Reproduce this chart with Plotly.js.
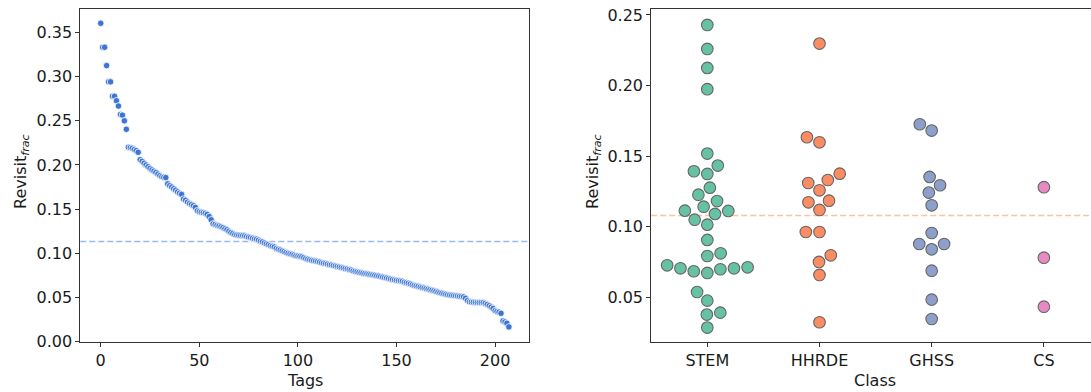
<!DOCTYPE html>
<html>
<head>
<meta charset="utf-8">
<script src="https://cdn.plot.ly/plotly-3.0.1.min.js"></script>
<style>html,body{margin:0;padding:0;background:#fff;overflow:hidden}#chart{width:1091px;height:392px}</style>
</head>
<body>
<div id="chart"></div>
<script>
// ---------- data ----------
const tagRevisit = [
  0.3605, 0.3333, 0.3333, 0.3125, 0.2941, 0.2941, 0.2778, 0.2778, 0.2727, 0.2667,
  0.2571, 0.2564, 0.2500, 0.2404, 0.2200, 0.2195, 0.2188, 0.2174, 0.2162, 0.2143,
  0.2059, 0.2041, 0.2020, 0.2000, 0.1980, 0.1961, 0.1944, 0.1930, 0.1915, 0.1897,
  0.1880, 0.1867, 0.1860, 0.1857, 0.1786, 0.1765, 0.1750, 0.1731, 0.1714, 0.1695,
  0.1680, 0.1667, 0.1613, 0.1600, 0.1579, 0.1563, 0.1552, 0.1538, 0.1519, 0.1481,
  0.1471, 0.1463, 0.1458, 0.1452, 0.1440, 0.1415, 0.1379, 0.1333, 0.1327, 0.1316,
  0.1309, 0.1300, 0.1290, 0.1277, 0.1266, 0.1250, 0.1235, 0.1224, 0.1212, 0.1207,
  0.1204, 0.1200, 0.1200, 0.1197, 0.1190, 0.1183, 0.1178, 0.1170, 0.1163, 0.1159,
  0.1148, 0.1136, 0.1128, 0.1117, 0.1106, 0.1098, 0.1087, 0.1078, 0.1071, 0.1055,
  0.1045, 0.1036, 0.1026, 0.1017, 0.1008, 0.1000, 0.0993, 0.0989, 0.0980, 0.0972,
  0.0969, 0.0965, 0.0960, 0.0950, 0.0940, 0.0933, 0.0927, 0.0920, 0.0915, 0.0911,
  0.0906, 0.0900, 0.0893, 0.0887, 0.0883, 0.0877, 0.0870, 0.0866, 0.0860, 0.0856,
  0.0851, 0.0845, 0.0839, 0.0833, 0.0827, 0.0822, 0.0816, 0.0809, 0.0800, 0.0795,
  0.0789, 0.0784, 0.0779, 0.0774, 0.0770, 0.0767, 0.0763, 0.0759, 0.0755, 0.0751,
  0.0746, 0.0741, 0.0736, 0.0730, 0.0725, 0.0720, 0.0714, 0.0709, 0.0704, 0.0698,
  0.0694, 0.0690, 0.0686, 0.0682, 0.0672, 0.0667, 0.0660, 0.0652, 0.0643, 0.0635,
  0.0630, 0.0625, 0.0617, 0.0612, 0.0606, 0.0600, 0.0594, 0.0588, 0.0581, 0.0575,
  0.0568, 0.0560, 0.0553, 0.0547, 0.0541, 0.0536, 0.0531, 0.0527, 0.0524, 0.0521,
  0.0519, 0.0516, 0.0513, 0.0510, 0.0505, 0.0490, 0.0465, 0.0450, 0.0448, 0.0446,
  0.0444, 0.0443, 0.0442, 0.0441, 0.0440, 0.0432, 0.0420, 0.0405, 0.0390, 0.0375,
  0.0350, 0.0340, 0.0333, 0.0320, 0.0233, 0.0222, 0.0207, 0.0166
];
const tagMeanLine = 0.1133;

const classNames = ["STEM", "HHRDE", "GHSS", "CS"];
const stemValues = [0.2429, 0.2259, 0.2125, 0.1974, 0.1518, 0.1433, 0.1393, 0.1374, 0.1277, 0.1227,
  0.1182, 0.1142, 0.1114, 0.1112, 0.1091, 0.1050, 0.1015, 0.0907, 0.0812, 0.0793,
  0.0727, 0.0713, 0.0706, 0.0706, 0.0699, 0.0685, 0.0673, 0.0538, 0.0477, 0.0392,
  0.0378, 0.0286];
const hhrdeValues = [0.2297, 0.1634, 0.1598, 0.1376, 0.1331, 0.1310, 0.1258, 0.1185, 0.1173, 0.1119,
  0.0963, 0.0963, 0.0798, 0.0751, 0.0659, 0.0324];
const ghssValues = [0.1726, 0.1681, 0.1353, 0.1294, 0.1242, 0.1152, 0.0956, 0.0878, 0.0878, 0.0840,
  0.0689, 0.0484, 0.0347];
const csValues = [0.1280, 0.0781, 0.0434];
const classMeanLine = 0.1079;
const classColors = ["#66c2a5", "#fc8d62", "#8da0cb", "#e78ac3"];

// ---------- geometry ----------
const W = 1091, H = 392;
const M = {l: 0, r: 0, t: 9, b: 50};
const plotH = H - M.t - M.b;
const x1Dom = [80.3 / W, 529.3 / W];
const x2Dom = [651.2 / W, 1];
const y1Range = [-0.0005, 0.3766];
const y2Range = [0.0184, 0.2542];
const x2Range = [-0.5, 3.42];
const x1Range = [-10.35, 217.35];

// beeswarm (seaborn-like) in pixel space
const pxPerY2 = plotH / (y2Range[1] - y2Range[0]);
const pxPerX2 = (x2Dom[1] - x2Dom[0]) * W / (x2Range[1] - x2Range[0]);
const R = 6.5;
function swarm(values) {
  const idx = values.map((v, i) => i).sort((a, b) => values[a] - values[b]);
  const placed = [];
  for (const i of idx) {
    const y = values[i] * pxPerY2;
    const nb = [];
    for (let k = placed.length - 1; k >= 0; k--) {
      if (y - placed[k].y < 2 * R) nb.unshift(placed[k]); else break;
    }
    const cands = [0];
    let leftFirst = true;
    for (const n of nb) {
      const dy = y - n.y;
      const dx = Math.sqrt(Math.max(4 * R * R - dy * dy, 0)) * 1.05;
      if (leftFirst) cands.push(n.x - dx, n.x + dx); else cands.push(n.x + dx, n.x - dx);
      leftFirst = !leftFirst;
    }
    const order = cands.map((c, j) => j).sort((a, b) => (Math.abs(cands[a]) - Math.abs(cands[b])) || (a - b));
    let chosen = 0;
    for (const j of order) {
      const cx = cands[j];
      if (nb.every(n => (n.x - cx) ** 2 + (n.y - y) ** 2 >= 4 * R * R - 1e-9)) { chosen = cx; break; }
    }
    placed.push({x: chosen, y: y, i: i});
  }
  const off = new Array(values.length);
  placed.forEach(p => { off[p.i] = p.x / pxPerX2; });
  return off;
}

const axisFont = {family: "DejaVu Sans, sans-serif", size: 16, color: "#1a1a1a"};
const lineCol = "#333";

const traces = [];
traces.push({
  type: "scatter", mode: "markers", xaxis: "x", yaxis: "y",
  x: tagRevisit.map((v, i) => i), y: tagRevisit,
  marker: {size: 6.5, color: "#3c75d4", line: {color: "#ffffff", width: 0.8}},
  hoverinfo: "skip", showlegend: false
});
[stemValues, hhrdeValues, ghssValues, csValues].forEach((vals, c) => {
  const off = swarm(vals);
  traces.push({
    type: "scatter", mode: "markers", xaxis: "x2", yaxis: "y2",
    x: vals.map((v, i) => c + off[i]), y: vals,
    marker: {size: 11.6, color: classColors[c], line: {color: "#666666", width: 1.1}},
    hoverinfo: "skip", showlegend: false
  });
});

const layout = {
  width: W, height: H, margin: M,
  paper_bgcolor: "#fff", plot_bgcolor: "#fff",
  font: axisFont,
  showlegend: false,
  xaxis: {
    domain: x1Dom, range: x1Range, anchor: "y",
    tickvals: [0, 50, 100, 150, 200], ticks: "outside", ticklen: 4, tickwidth: 1, tickcolor: lineCol,
    showline: true, linecolor: lineCol, linewidth: 1, mirror: true,
    showgrid: false, zeroline: false, tickfont: axisFont
  },
  yaxis: {
    domain: [0, 1], range: y1Range, anchor: "x",
    tickvals: [0, 0.05, 0.10, 0.15, 0.20, 0.25, 0.30, 0.35], tickformat: ".2f",
    ticks: "outside", ticklen: 4, tickwidth: 1, tickcolor: lineCol,
    showline: true, linecolor: lineCol, linewidth: 1, mirror: true,
    showgrid: false, zeroline: false, tickfont: axisFont
  },
  xaxis2: {
    domain: x2Dom, range: x2Range, anchor: "y2",
    tickvals: [0, 1, 2, 3], ticktext: classNames,
    ticks: "outside", ticklen: 4, tickwidth: 1, tickcolor: lineCol,
    showline: true, linecolor: lineCol, linewidth: 1, mirror: true,
    showgrid: false, zeroline: false, tickfont: axisFont
  },
  yaxis2: {
    domain: [0, 1], range: y2Range, anchor: "x2",
    tickvals: [0.05, 0.10, 0.15, 0.20, 0.25], tickformat: ".2f",
    ticks: "outside", ticklen: 4, tickwidth: 1, tickcolor: lineCol,
    showline: true, linecolor: lineCol, linewidth: 1, mirror: false,
    showgrid: false, zeroline: false, tickfont: axisFont
  },
  shapes: [
    {type: "line", xref: "x domain", yref: "y", x0: 0, x1: 1, y0: tagMeanLine, y1: tagMeanLine,
     line: {color: "#9ab7ee", width: 1.5, dash: "6px,3px"}, layer: "below"},
    {type: "line", xref: "x2 domain", yref: "y2", x0: 0, x1: 1, y0: classMeanLine, y1: classMeanLine,
     line: {color: "#fcc3a3", width: 1.5, dash: "6px,3px"}, layer: "below"}
  ],
  annotations: [
    {text: "Tags", xref: "paper", yref: "paper", x: 304.8 / W, y: (342 - 380) / plotH,
     xanchor: "center", yanchor: "middle", showarrow: false, font: axisFont},
    {text: "Class", xref: "paper", yref: "paper", x: 875 / W, y: (342 - 380) / plotH,
     xanchor: "center", yanchor: "middle", showarrow: false, font: axisFont},
    {text: "Revisit<sub><i>frac</i></sub>", xref: "paper", yref: "paper", x: 21 / W, y: (342 - 172) / plotH,
     xanchor: "center", yanchor: "middle", textangle: -90, showarrow: false, font: axisFont},
    {text: "Revisit<sub><i>frac</i></sub>", xref: "paper", yref: "paper", x: 593 / W, y: (342 - 172) / plotH,
     xanchor: "center", yanchor: "middle", textangle: -90, showarrow: false, font: axisFont}
  ]
};

Plotly.newPlot("chart", traces, layout, {staticPlot: true, displayModeBar: false});
</script>
</body>
</html>
